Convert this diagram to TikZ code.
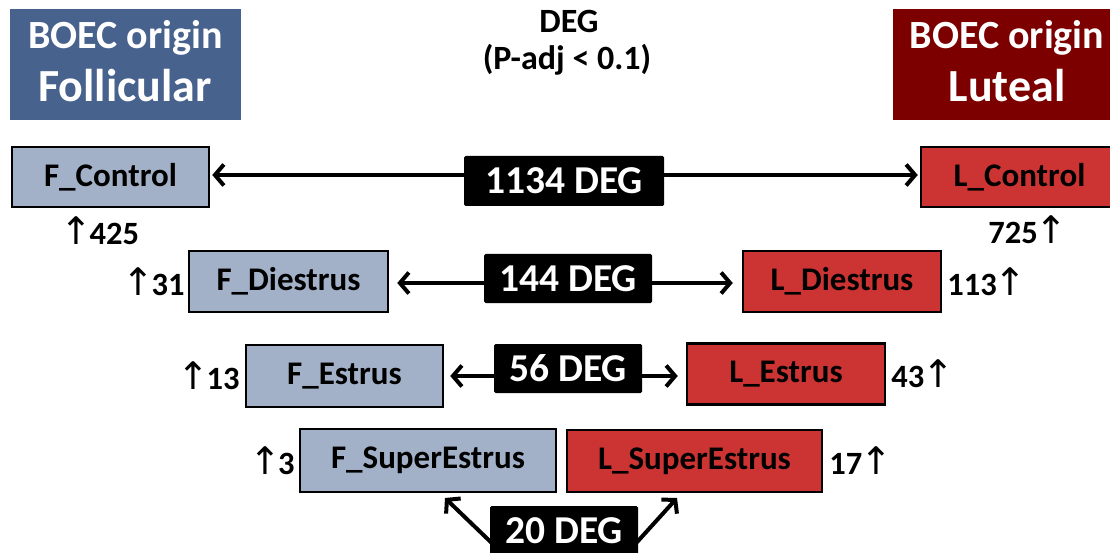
\documentclass[tikz,border=0pt]{standalone}
\usepackage{fontspec}
\setmainfont{Carlito}
\newfontfamily\arrfont{DejaVu Sans}
\usetikzlibrary{arrows.meta,calc}
\definecolor{hblue}{RGB}{71,98,140}
\definecolor{hred}{RGB}{124,0,0}
\definecolor{flight}{RGB}{162,177,199}
\definecolor{lred}{RGB}{204,51,51}
\newcommand{\upl}{{\arrfont\fontseries{m}\fontsize{38}{38}\selectfont\kern-2pt↑\kern-3pt}}
\newcommand{\upr}{{\arrfont\fontseries{m}\fontsize{38}{38}\selectfont\kern-2pt↑\kern-2pt}}
\begin{document}
\begin{tikzpicture}[x=1pt,y=-1pt,
  boxtxt/.style={font=\fontsize{33}{36}\selectfont\bfseries},
  fnode/.style={boxtxt, draw=black, line width=2.5pt, fill=flight, inner sep=0pt},
  lnode/.style={boxtxt, draw=black, line width=2.5pt, fill=lred, inner sep=0pt},
  hline/.style={text=white, inner sep=0pt, anchor=base, font=\fontsize{40}{44}\selectfont\bfseries},
  hbig/.style={text=white, inner sep=0pt, anchor=base, font=\fontsize{46}{50}\selectfont\bfseries},
  deglabel/.style={fill=black, text=white, inner sep=0pt, rounded corners=1.5pt, font=\fontsize{39.5}{42}\selectfont\bfseries},
  cnt/.style={font=\fontsize{32.5}{34}\selectfont\bfseries, inner sep=0pt},
  ttl/.style={inner sep=0pt, anchor=base, font=\fontsize{34}{40}\selectfont\bfseries},
  arr/.style={line width=4pt, {Straight Barb[length=9pt,width=21pt]}-{Straight Barb[length=9pt,width=21pt]}},
  arrone/.style={line width=4pt, -{Straight Barb[length=9pt,width=21pt]}}
]
\useasboundingbox (0,0) rectangle (1110,553);
\clip (0,0) rectangle (1110,553);

% headers
\node[fill=hblue, minimum width=231pt, minimum height=111pt, inner sep=0pt] (hf) at (125.5,64.5) {};
\node[fill=hred, minimum width=231pt, minimum height=111pt, inner sep=0pt] (hl) at (1008.5,65) {};
\node[hline] (hf1) at (125.5,49) {BOEC origin};
\node[hbig] (hf2) at (125,102) {Follicular};
\node[hline] (hl1) at (1007,49) {BOEC origin};
\node[hbig] (hl2) at (1007,102) {Luteal};

% title
\node[ttl] (title1) at (569,33) {DEG};
\node[ttl] (title2) at (567,70) {(P-adj < 0.1)};

% boxes
\node[fnode, minimum width=197pt, minimum height=60pt] (fc) at (110.5,177) {F\_Control};
\node[lnode, minimum width=197pt, minimum height=60pt] (lc) at (1019.5,177) {L\_Control};
\node[fnode, minimum width=199pt, minimum height=61pt] (fd) at (288.5,281.5) {F\_Diestrus};
\node[lnode, minimum width=198pt, minimum height=61pt] (ld) at (842,281.5) {L\_Diestrus};
\node[fnode, minimum width=197pt, minimum height=62pt] (fe) at (344.5,376) {F\_Estrus};
\node[lnode, minimum width=198pt, minimum height=61pt] (le) at (786,374) {L\_Estrus};
\node[fnode, minimum width=256pt, minimum height=63pt] (fs) at (428,460.5) {F\_SuperEstrus};
\node[lnode, minimum width=255pt, minimum height=62pt] (ls) at (694.5,461) {L\_SuperEstrus};

% connectors
\draw[arr] ([xshift=2pt,yshift=2pt]fc.east) -- ([xshift=-2pt,yshift=2pt]lc.west);
\draw[arr] ([xshift=8pt,yshift=-1.5pt]fd.east) -- ([xshift=-9pt,yshift=-1.5pt]ld.west);
\draw[arr] ([xshift=6pt]fe.east) -- ([xshift=-8pt]fe.east -| le.west);
\coordinate (tf) at (445,498);
\coordinate (tl) at (677,498);

% DEG labels
\node[deglabel, minimum width=200pt, minimum height=50pt] (d1) at (564,181) {1134 DEG};
\node[deglabel, minimum width=168pt, minimum height=49pt] (d2) at (568,278.5) {144 DEG};
\node[deglabel, minimum width=148pt, minimum height=49pt] (d3) at (568,368.5) {56 DEG};
\node[deglabel, minimum width=148pt, minimum height=56pt, anchor=north] (d4) at (564,506) {};
\node[deglabel, inner sep=0pt] (d4t) at (564,531) {20 DEG};
\draw[arrone] ($(d4.north west)+(3pt,-38pt)$) -- (tf);
\draw[arrone] ($(d4.north east)+(-2pt,-37pt)$) -- (tl);

% counts
\node[cnt] (c1) at (101,231) {\upl425};
\node[cnt] (c2) at (1027,230) {725\upr};
\node[cnt, anchor=east] (c3) at ($(fd.west)+(-3pt,0)$) {\upl31};
\node[cnt, anchor=west] (c4) at ($(ld.east)+(5pt,0)$) {113\upr};
\node[cnt, anchor=east] (c5) at ($(fe.west)+(-5pt,0)$) {\upl13};
\node[cnt, anchor=west] (c6) at ($(le.east)+(5pt,0)$) {43\upr};
\node[cnt, anchor=east] (c7) at ($(fs.west)+(-4pt,0)$) {\upl3};
\node[cnt, anchor=west] (c8) at ($(ls.east)+(6pt,0)$) {17\upr};
\end{tikzpicture}
\end{document}
